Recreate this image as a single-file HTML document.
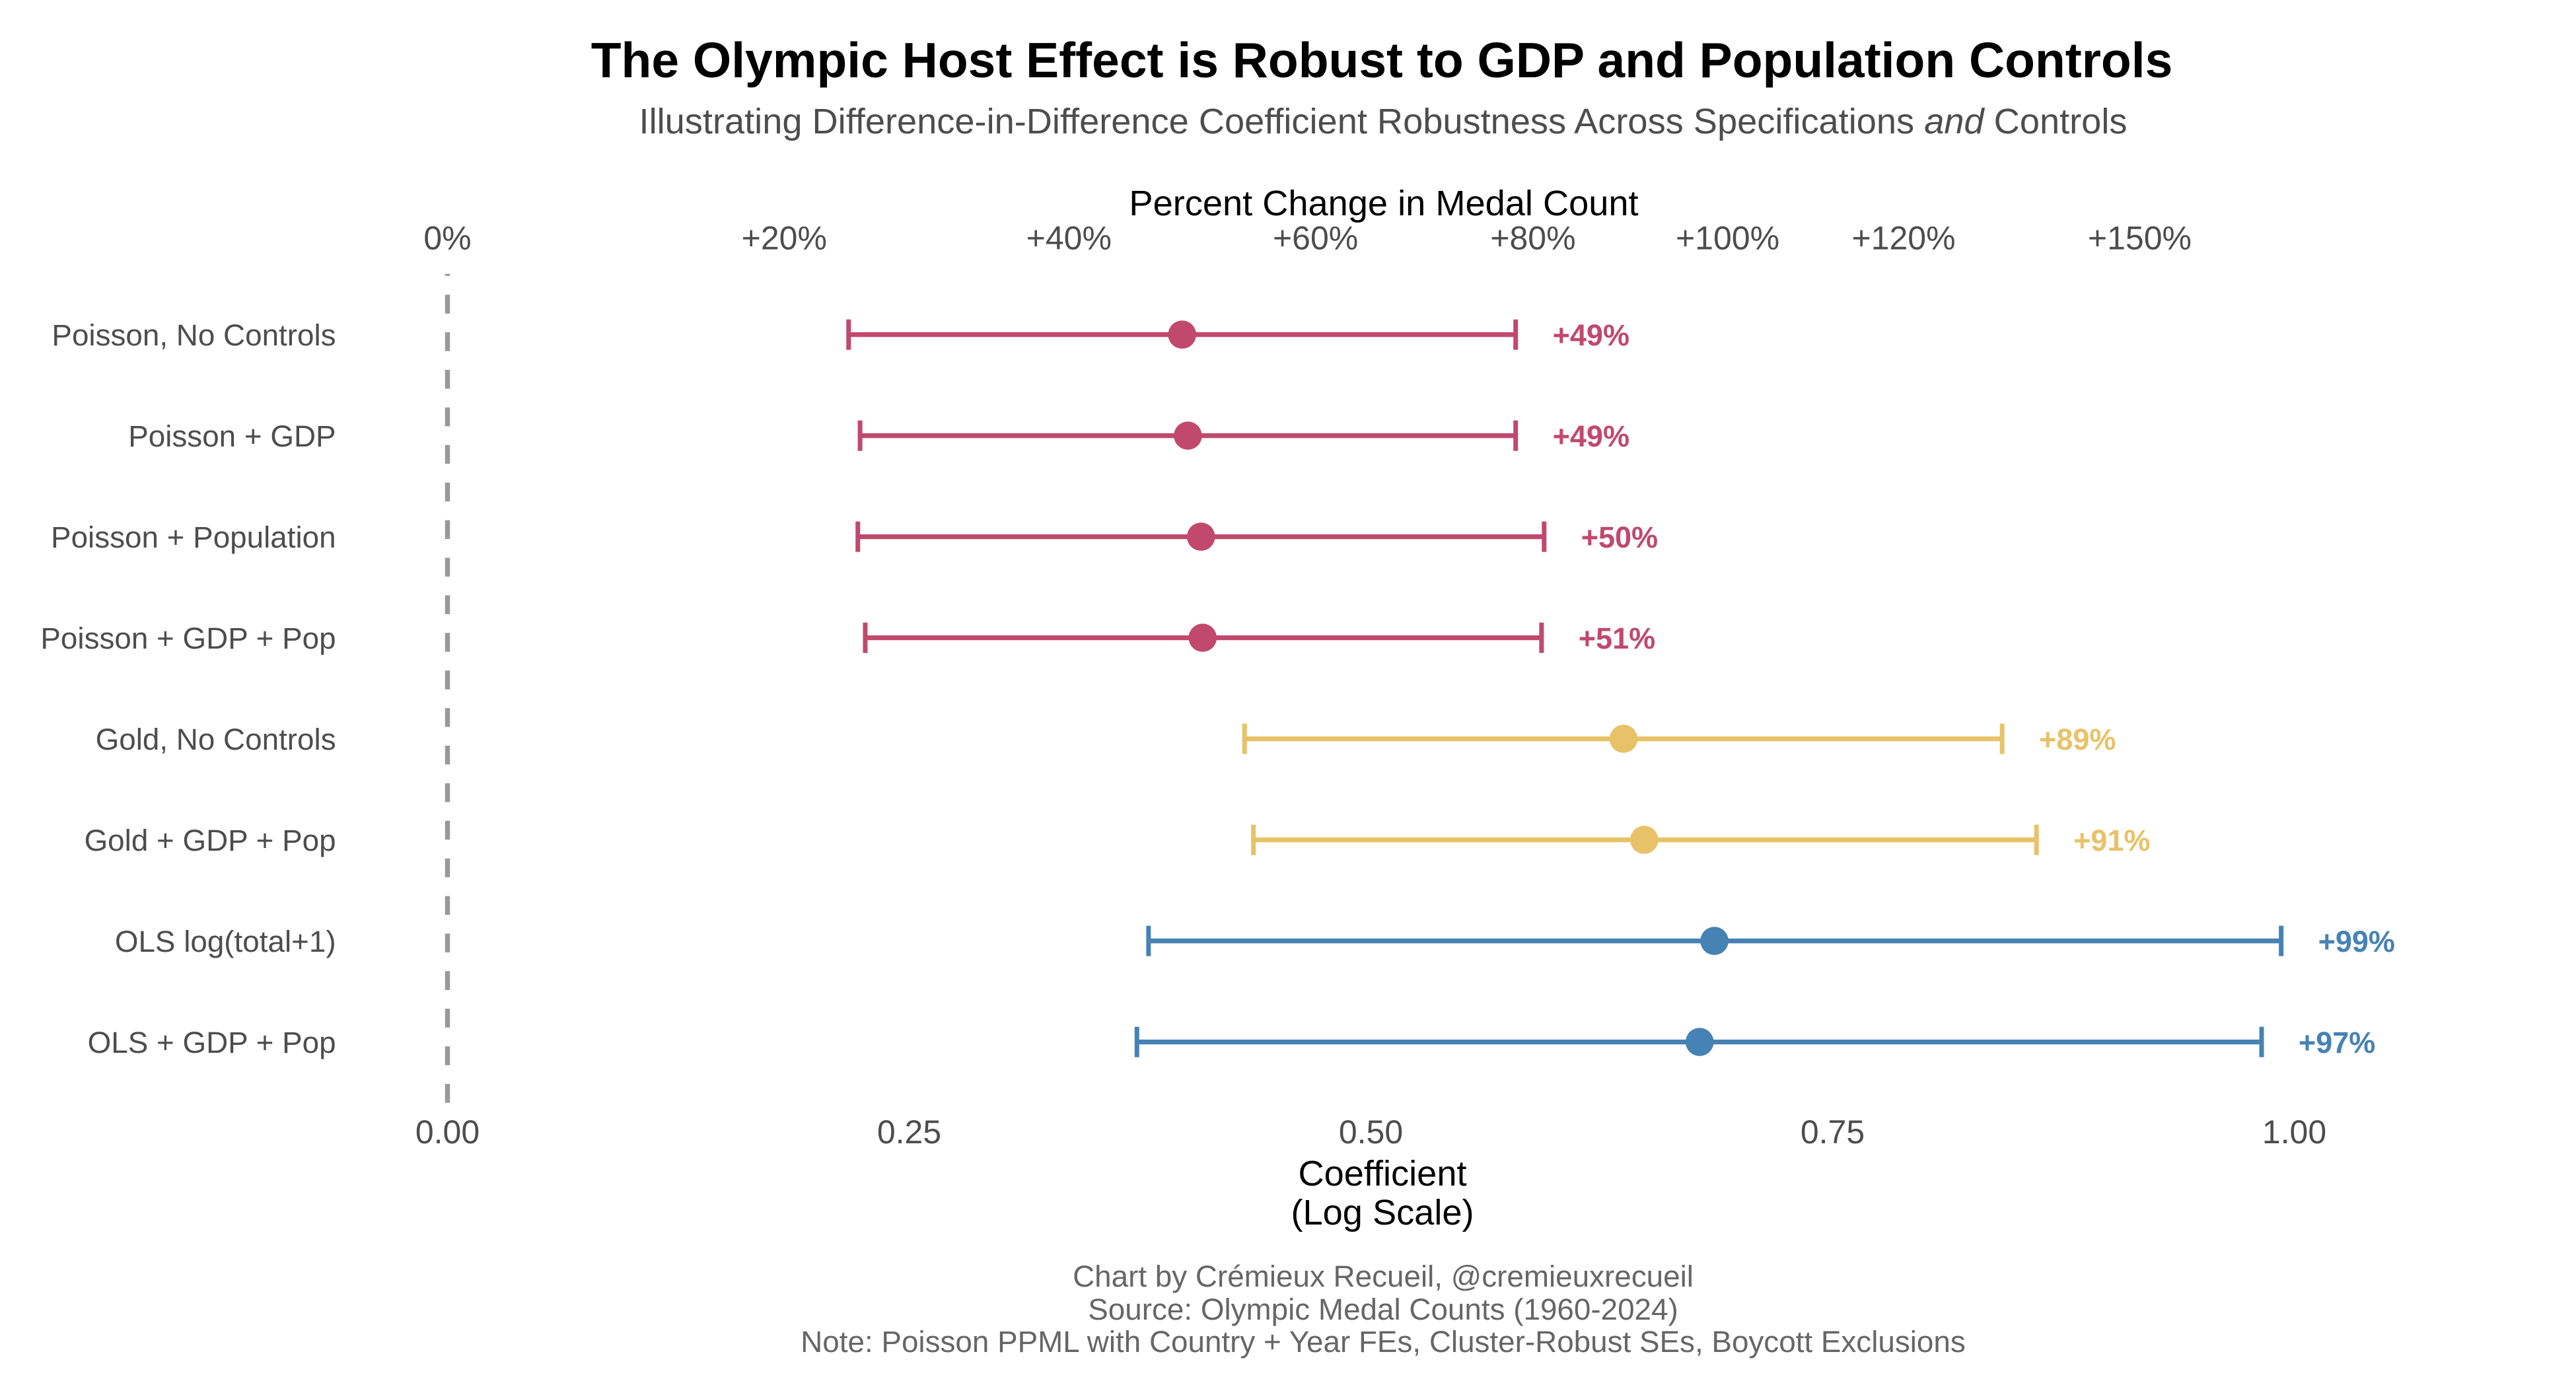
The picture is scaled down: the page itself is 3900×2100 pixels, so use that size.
<!DOCTYPE html>
<html lang="en">
<head>
<meta charset="utf-8">
<title>The Olympic Host Effect is Robust to GDP and Population Controls</title>
<style>
html,body{margin:0;padding:0;background:#fff;width:3900px;height:2100px;overflow:hidden}
svg{display:block;font-family:"Liberation Sans",Arial,Helvetica,sans-serif}
</style>
</head>
<body>
<svg id="chart" xmlns="http://www.w3.org/2000/svg" width="3900" height="2100" viewBox="0 0 3900 2100">
  <rect x="0" y="0" width="3900" height="2100" fill="#ffffff"/>
  <text x="2092" y="117" text-anchor="middle" font-size="75" font-weight="700" fill="#000000">The Olympic Host Effect is Robust to GDP and Population Controls</text>
  <text x="2094" y="202" text-anchor="middle" font-size="54.2" fill="#4d4d4d">Illustrating Difference-in-Difference Coefficient Robustness Across Specifications <tspan font-style="italic">and</tspan> Controls</text>
  <text x="2095" y="326" text-anchor="middle" font-size="54.2" fill="#000000">Percent Change in Medal Count</text>
  <text x="2093" y="1795" text-anchor="middle" font-size="54.2" fill="#000000">Coefficient</text>
  <text x="2093" y="1854" text-anchor="middle" font-size="54.2" fill="#000000">(Log Scale)</text>
  <text x="2094" y="1948" text-anchor="middle" font-size="45.8" fill="#666666">Chart by Crémieux Recueil, @cremieuxrecueil</text>
  <text x="2094" y="1998" text-anchor="middle" font-size="45.8" fill="#666666">Source: Olympic Medal Counts (1960-2024)</text>
  <text x="2094" y="2047" text-anchor="middle" font-size="45.8" fill="#666666">Note: Poisson PPML with Country + Year FEs, Cluster-Robust SEs, Boycott Exclusions</text>
  <g id="axes"></g>
  <g id="marks"></g>
</svg>
<script>
const specifications = ["Poisson, No Controls","Poisson + GDP","Poisson + Population","Poisson + GDP + Pop","Gold, No Controls","Gold + GDP + Pop","OLS log(total+1)","OLS + GDP + Pop"];
const estimates = [0.3978,0.4009,0.408,0.4089,0.6368,0.648,0.686,0.678];
const ciLow = [0.2172,0.2234,0.2222,0.2262,0.4316,0.4364,0.3796,0.3733];
const ciHigh = [0.5784,0.5784,0.5938,0.5924,0.8418,0.8604,0.9929,0.9823];
const effectLabels = ["+49%","+49%","+50%","+51%","+89%","+91%","+99%","+97%"];
const outcomeGroups = ["poisson","poisson","poisson","poisson","gold","gold","ols","ols"];
const bottomTicks = [0,0.25,0.5,0.75,1];
const bottomTickLabels = ["0.00","0.25","0.50","0.75","1.00"];
const topTickPercents = [0,20,40,60,80,100,120,150];
const topTickLabels = ["0%","+20%","+40%","+60%","+80%","+100%","+120%","+150%"];

const groupColors = {poisson:"#C0496D",gold:"#E8C268",ols:"#4682B4"};
const NS = "http://www.w3.org/2000/svg";
const axes = document.getElementById("axes");
const marks = document.getElementById("marks");
const xScale = v => 677.5 + 2796 * v;
const yScale = i => 506.6 + 153 * i;
const labelOffset = 0.02;

function make(parent, tag, attrs, content) {
  const el = document.createElementNS(NS, tag);
  for (const k in attrs) el.setAttribute(k, attrs[k]);
  if (content !== undefined) el.textContent = content;
  parent.appendChild(el);
  return el;
}

const refLine = make(axes, "line", {x1: xScale(0), x2: xScale(0), y1: 1669.6, y2: 414.6, stroke: "#999999", "stroke-width": 7.5, "stroke-dasharray": "28.5 28.4"});



bottomTicks.forEach((t, i) => {
  const el = make(axes, "text", {x: xScale(t), y: 1731, "text-anchor": "middle", "font-size": 50, fill: "#4d4d4d"}, bottomTickLabels[i]);
  
  
});

topTickPercents.forEach((p, i) => {
  const el = make(axes, "text", {x: xScale(Math.log(1 + p / 100)), y: 377.6, "text-anchor": "middle", "font-size": 50, fill: "#4d4d4d"}, topTickLabels[i]);
  
  
});

specifications.forEach((name, i) => {
  const y = yScale(i);
  const color = groupColors[outcomeGroups[i]];

  const label = make(axes, "text", {x: 508.6, y: y + 16.2, "text-anchor": "end", "font-size": 45.8, fill: "#4d4d4d"}, name);
  
  

  const bar = make(marks, "line", {x1: xScale(ciLow[i]), x2: xScale(ciHigh[i]), y1: y, y2: y, stroke: color, "stroke-width": 7.2});
  
  

  const capLow = make(marks, "line", {x1: xScale(ciLow[i]), x2: xScale(ciLow[i]), y1: y - 23, y2: y + 23, stroke: color, "stroke-width": 7});
  
  

  const capHigh = make(marks, "line", {x1: xScale(ciHigh[i]), x2: xScale(ciHigh[i]), y1: y - 23, y2: y + 23, stroke: color, "stroke-width": 7});
  
  

  const point = make(marks, "circle", {cx: xScale(estimates[i]), cy: y, r: 21.3, fill: color});
  
  

  const value = make(marks, "text", {x: xScale(ciHigh[i] + labelOffset), y: y + 16.2, "font-size": 45, "font-weight": 700, fill: color}, effectLabels[i]);
  
  
});
</script>
</body>
</html>
